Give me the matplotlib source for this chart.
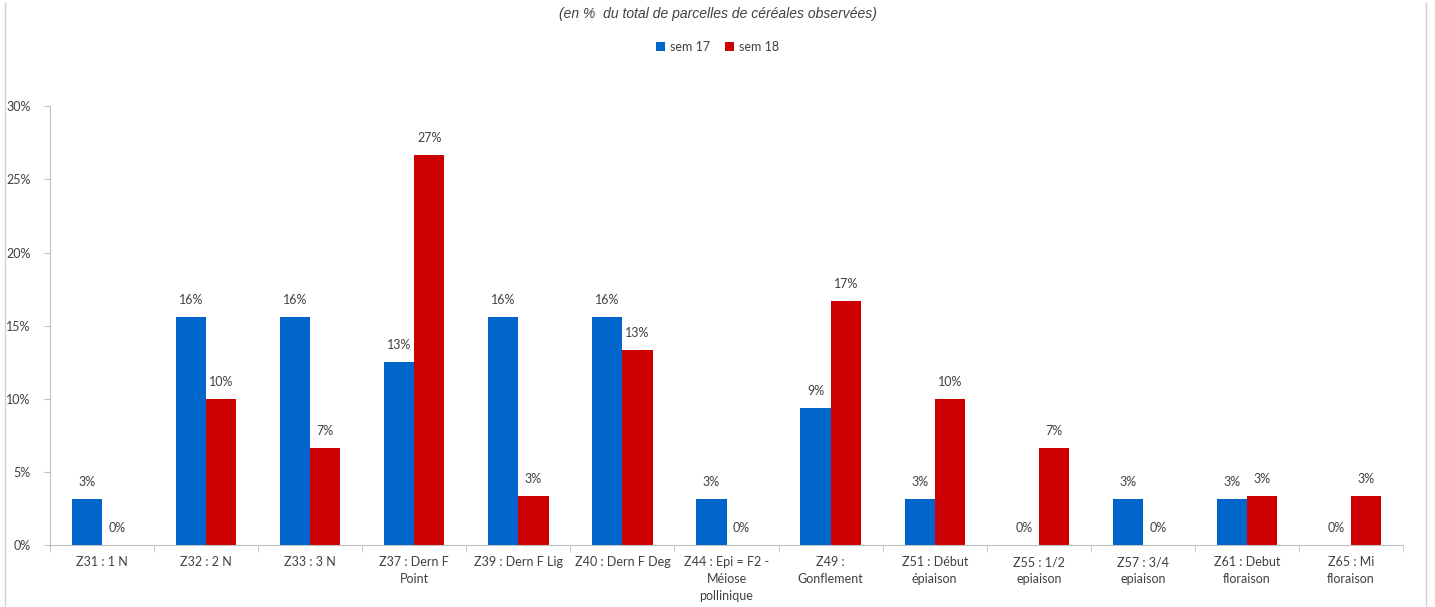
import numpy as np
import matplotlib.pyplot as plt
from matplotlib.lines import Line2D

# ========================================================
# Data (percent of observed cereal plots)
# ========================================================
categories = ['Z31 : 1 N', 'Z32 : 2 N', 'Z33 : 3 N', 'Z37 : Dern F\nPoint',
              'Z39 : Dern F Lig', 'Z40 : Dern F Deg',
              'Z44 : Epi = F2 -\nMéiose\npollinique', 'Z49 :\nGonflement',
              'Z51 : Début\népiaison', 'Z55 : 1/2\nepiaison', 'Z57 : 3/4\nepiaison',
              'Z61 : Debut\nfloraison', 'Z65 : Mi\nfloraison']
sem17 = [3.125, 15.625, 15.625, 12.5, 15.625, 15.625, 3.125, 9.375, 3.125,
         0.0, 3.125, 3.125, 0.0]
sem18 = [0.0, 10.0, 6.667, 26.667, 3.333, 13.333, 0.0, 16.667, 10.0,
         6.667, 0.0, 3.333, 3.333]
series_names = ['sem 17', 'sem 18']
colors = ['#0066CC', '#CC0000']
yticks = [0, 5, 10, 15, 20, 25, 30]

plt.rcParams['font.family'] = ['Lato', 'DejaVu Sans']

fig = plt.figure(figsize=(14.35, 6.07), dpi=100)
ax = fig.add_axes([0.0348, 0.102, 0.943, 0.723])

x = np.arange(len(categories))
w = 0.29
bars = []
for k, (vals, name, col) in enumerate(zip([sem17, sem18], series_names, colors)):
    b = ax.bar(x + (k - 0.5) * w, vals, width=w, color=col, label=name)
    bars.append(b)
    for xi, v in zip(x + (k - 0.5) * w, vals):
        # Excel-style rounding (half up)
        ax.text(xi, v + 0.75, f'{int(np.floor(v + 0.5))}%', ha='center',
                va='bottom', fontsize=9, color='#404040')

ax.set_xlim(-0.5, len(categories) - 0.5)
ax.set_ylim(0, 30)
ax.set_yticks(yticks)
ax.set_yticklabels([f'{t}%' for t in yticks], fontsize=9, color='#404040')
ax.set_xticks(x)
ax.set_xticklabels(categories, fontsize=9, color='#404040', linespacing=1.5)
ax.tick_params(axis='x', length=0, pad=8)
ax.tick_params(axis='y', length=4, color='#BFBFBF', pad=10)
ax.set_xticks(np.arange(len(categories) + 1) - 0.5, minor=True)
ax.tick_params(axis='x', which='minor', length=5, color='#BFBFBF')

for s in ['top', 'right']:
    ax.spines[s].set_visible(False)
for s in ['left', 'bottom']:
    ax.spines[s].set_color('#BFBFBF')

# light frame lines at the chart edges
fig.add_artist(Line2D([0.0035, 0.0035], [0.0, 0.995], color='#D0D0D0', lw=1))
fig.add_artist(Line2D([0.9935, 0.9935], [0.0, 0.995], color='#D0D0D0', lw=1))

fig.text(0.5, 0.977, '(en %  du total de parcelles de céréales observées)',
         ha='center', va='center', fontsize=10, style='italic',
         family='Liberation Sans', color='#404040')
fig.legend(handles=bars, labels=series_names, loc='center', ncol=2,
           bbox_to_anchor=(0.5, 0.923), frameon=False, fontsize=9,
           handlelength=0.7, handleheight=0.7, handletextpad=0.4,
           columnspacing=1.2, labelcolor='#404040')

plt.savefig('out.png', dpi=100)
